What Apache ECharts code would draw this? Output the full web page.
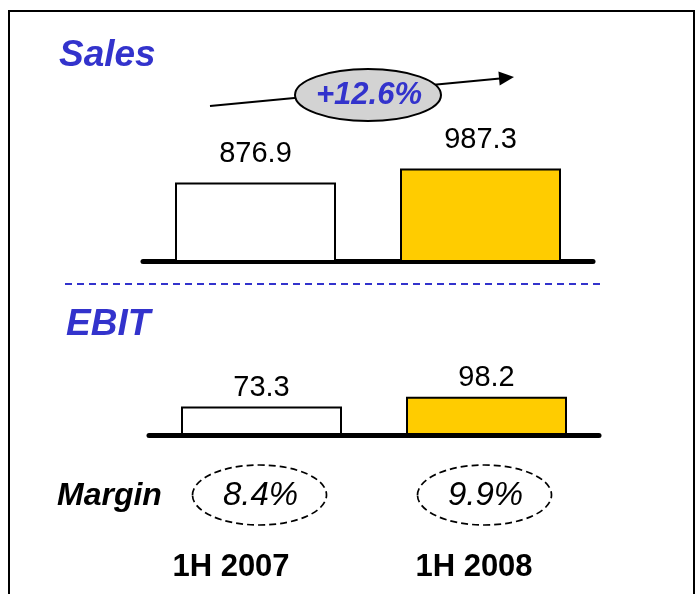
<!DOCTYPE html>
<html>
<head>
<meta charset="utf-8">
<script src="https://cdn.jsdelivr.net/npm/echarts@6/dist/echarts.min.js"></script>
<style>
html, body { margin: 0; padding: 0; background: #fff; }
#chart { width: 698px; height: 594px; }
</style>
</head>
<body>
<div id="chart"></div>
<script>
// data
var categories = ['1H 2007', '1H 2008'];
var salesValues = [876.9, 987.3];
var ebitValues = [73.3, 98.2];
var marginLabels = ['8.4%', '9.9%'];
var growthLabel = '+12.6%';

var FONT = 'Liberation Sans, Arial, sans-serif';
var BLUE = '#3333cc';
var barColors = ['#ffffff', '#ffcc00'];

function barData(values) {
    return values.map(function (v, i) {
        return { value: v, itemStyle: { color: barColors[i] } };
    });
}

function xAxisOf(gridIndex) {
    return {
        type: 'category',
        gridIndex: gridIndex,
        data: categories,
        axisLine: { onZero: false, lineStyle: { color: '#000', width: 5, cap: 'round' } },
        axisTick: { show: false },
        axisLabel: { show: false }
    };
}

function yAxisOf(gridIndex, min, max) {
    return { type: 'value', gridIndex: gridIndex, min: min, max: max, show: false };
}

function labelOf(dist) {
    return {
        show: true, position: 'top', distance: dist,
        color: '#000', fontSize: 29, fontFamily: FONT
    };
}

var chart = echarts.init(document.getElementById('chart'), null, { renderer: 'canvas' });

chart.setOption({
    animation: false,
    grid: [
        { left: 143, width: 450, top: 167, height: 94 },
        { left: 149, width: 450, top: 396, height: 39 }
    ],
    xAxis: [xAxisOf(0), xAxisOf(1)],
    yAxis: [yAxisOf(0, 250, 1000), yAxisOf(1, 0, 100)],
    series: [
        {
            name: 'Sales', type: 'bar', xAxisIndex: 0, yAxisIndex: 0,
            barWidth: 161, data: barData(salesValues),
            itemStyle: { borderColor: '#000', borderWidth: 2 },
            label: labelOf(14)
        },
        {
            name: 'EBIT', type: 'bar', xAxisIndex: 1, yAxisIndex: 1,
            barWidth: 161, data: barData(ebitValues),
            itemStyle: { borderColor: '#000', borderWidth: 2 },
            label: labelOf(4)
        }
    ]
});

// annotations
var graphics = [
    // frame (left, top, right)
    { type: 'polyline', shape: { points: [[9, 594], [9, 11], [694, 11], [694, 594]] },
      style: { stroke: '#000', lineWidth: 2, fill: null } },
    { type: 'text', style: { x: 59, y: 56, text: 'Sales', fill: BLUE,
      font: 'italic bold 37px ' + FONT, align: 'left', verticalAlign: 'middle' } },
    { type: 'text', style: { x: 66, y: 325, text: 'EBIT', fill: BLUE,
      font: 'italic bold 37px ' + FONT, align: 'left', verticalAlign: 'middle' } },
    // separator
    { type: 'line', shape: { x1: 65, y1: 284, x2: 603, y2: 284 },
      style: { stroke: BLUE, lineWidth: 2, lineDash: [7, 5] } },
    // growth arrow
    { type: 'line', shape: { x1: 210, y1: 106, x2: 500, y2: 78.4 },
      style: { stroke: '#000', lineWidth: 2 } },
    { type: 'polygon', shape: { points: [[514, 77], [499.7, 85.4], [498.4, 71.5]] },
      style: { fill: '#000' } },
    { type: 'ellipse', shape: { cx: 368, cy: 95, rx: 73, ry: 26 },
      style: { fill: '#d3d3d3', stroke: '#000', lineWidth: 2 } },
    { type: 'text', style: { x: 369, y: 95, text: growthLabel, fill: BLUE,
      font: 'italic bold 31px ' + FONT, align: 'center', verticalAlign: 'middle' } },
    { type: 'text', style: { x: 57, y: 496, text: 'Margin', fill: '#000',
      font: 'italic bold 32px ' + FONT, align: 'left', verticalAlign: 'middle' } }
];

var catX = [231, 474];
categories.forEach(function (c, i) {
    var cx = chart.convertToPixel({ xAxisIndex: 1 }, c);
    graphics.push({ type: 'ellipse', shape: { cx: cx - 2, cy: 495, rx: 67, ry: 30 },
        style: { fill: null, stroke: '#000', lineWidth: 1.7, lineDash: [7, 4] } });
    graphics.push({ type: 'text', style: { x: cx - 1, y: 496, text: marginLabels[i], fill: '#000',
        font: 'italic 33px ' + FONT, align: 'center', verticalAlign: 'middle' } });
    graphics.push({ type: 'text', style: { x: catX[i], y: 567, text: c, fill: '#000',
        font: 'bold 31px ' + FONT, align: 'center', verticalAlign: 'middle' } });
});

chart.setOption({ graphic: graphics });
</script>
</body>
</html>
